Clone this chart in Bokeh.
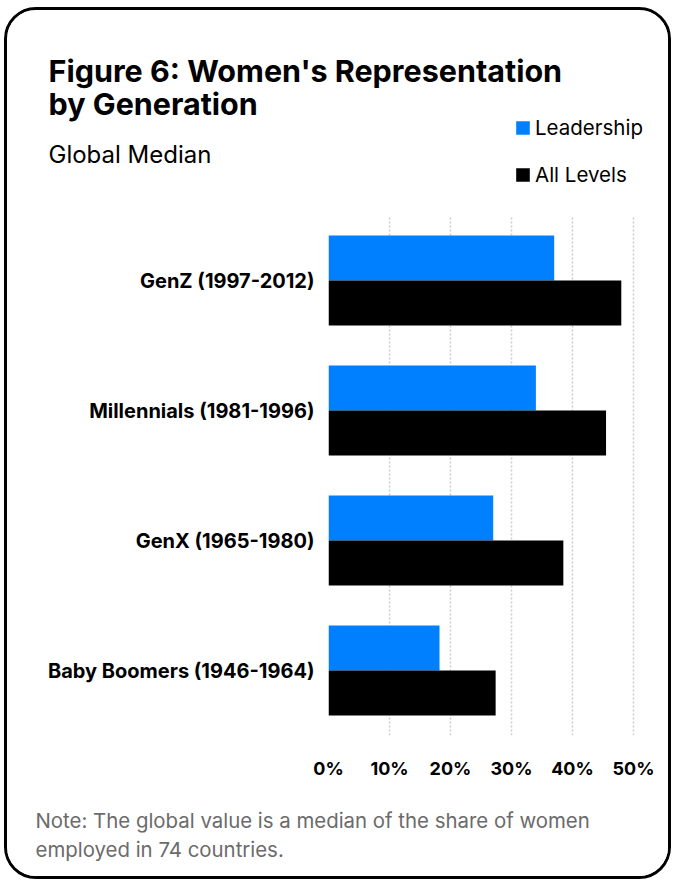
from bokeh.plotting import figure
from bokeh.layouts import column
from bokeh.models import (FactorRange, Range1d, Label, FixedTicker,
                          Legend, LegendItem, ColumnDataSource)
from bokeh.transform import dodge
from bokeh.embed import file_html
from bokeh.resources import INLINE

categories = ["GenZ (1997-2012)", "Millennials (1981-1996)", "GenX (1965-1980)",
              "Baby Boomers (1946-1964)"]
leadership = [37.0, 34.0, 27.0, 18.2]
all_levels = [48.0, 45.5, 38.5, 27.4]
series_names = ["Leadership", "All Levels"]
tick_values = [0, 10, 20, 30, 40, 50]
tick_labels = ["0%", "10%", "20%", "30%", "40%", "50%"]
colors = ["#0080ff", "#000000"]

FONT = "Inter"
W = 661
HH, HM, HF = 195, 590, 81


def blank(h):
    f = figure(width=W, height=h, output_backend="svg", toolbar_location=None,
               x_range=Range1d(0, W), y_range=Range1d(h, 0),
               x_axis_type=None, y_axis_type=None,
               min_border=0, min_border_left=0, min_border_right=0,
               min_border_top=0, min_border_bottom=0, frame_align=False)
    f.outline_line_color = None
    f.grid.grid_line_color = None
    f.border_fill_color = "white"
    f.background_fill_color = "white"
    return f


def lab(f, x, y, text, size, style="normal", color="black"):
    f.add_layout(Label(x=x, y=y, text=text, text_font=FONT, text_font_size=size,
                       text_font_style=style, text_color=color,
                       text_baseline="alphabetic", text_align="left"))


# ---------- header ----------
head = blank(HH)
lab(head, 41, 60, "Figure 6: Women's Representation", "30.5px", "bold")
lab(head, 41, 93, "by Generation", "30.5px", "bold")
lab(head, 41, 144, "Global Median", "24px")
# off-canvas stand-ins so that the legend can draw its swatches
d1 = head.hbar(y=[-1000], right=[1], height=1, fill_color=colors[0], line_color=None)
d2 = head.hbar(y=[-1000], right=[1], height=1, fill_color=colors[1], line_color=None)
legend = Legend(items=[LegendItem(label=series_names[0], renderers=[d1]),
                       LegendItem(label=series_names[1], renderers=[d2])],
                location=(507, 18), orientation="vertical",
                glyph_width=17, glyph_height=17, label_standoff=4,
                label_text_font=FONT, label_text_font_size="20.5px",
                label_text_color="black",
                label_height=17, spacing=22, padding=0, margin=0,
                border_line_color=None, background_fill_alpha=0)
head.add_layout(legend)

# ---------- main chart ----------
p = figure(width=W, height=HM, output_backend="svg", toolbar_location=None,
           y_range=FactorRange(*categories[::-1]), x_range=Range1d(0, 52.46),
           min_border_left=321, min_border_right=20, min_border_top=10,
           min_border_bottom=60, frame_align=False)
p.outline_line_color = None
p.border_fill_color = "white"

src = ColumnDataSource(dict(cat=categories, lead=leadership, all=all_levels))
p.hbar(y=dodge("cat", 0.173, range=p.y_range), left=0, right="lead", height=0.346,
       fill_color=colors[0], line_color=None, source=src)
p.hbar(y=dodge("cat", -0.173, range=p.y_range), left=0, right="all", height=0.346,
       fill_color=colors[1], line_color=None, source=src)

p.yaxis.axis_line_color = None
p.yaxis.major_tick_line_color = None
p.yaxis.minor_tick_line_color = None
p.yaxis.major_label_standoff = 8
p.yaxis.major_label_text_font = FONT
p.yaxis.major_label_text_font_style = "bold"
p.yaxis.major_label_text_font_size = "20px"
p.yaxis.major_label_text_color = "black"

p.xaxis.axis_line_color = None
p.xaxis.major_tick_line_color = None
p.xaxis.minor_tick_line_color = None
p.xaxis.ticker = FixedTicker(ticks=tick_values)
p.xaxis.major_label_overrides = {v: l for v, l in zip(tick_values, tick_labels)}
p.xaxis.major_label_standoff = 16
p.xaxis.major_label_text_font = FONT
p.xaxis.major_label_text_font_style = "bold"
p.xaxis.major_label_text_font_size = "18px"
p.xaxis.major_label_text_color = "black"

p.xgrid.grid_line_color = "#cccccc"
p.xgrid.grid_line_dash = "2 2"
p.xgrid.grid_line_width = 1.5
p.ygrid.grid_line_color = None

# ---------- footer ----------
foot = blank(HF)
lab(foot, 28, 25, "Note: The global value is a median of the share of women", "20.4px",
    color="#6b6b6b")
lab(foot, 28, 54, "employed in 74 countries.", "20.4px", color="#6b6b6b")

layout = column(head, p, foot, spacing=0,
                styles={"margin": "7px 0 0 4px", "border": "3px solid black",
                        "border-radius": "32px", "overflow": "hidden",
                        "background": "white"})

open("out.html", "w").write(file_html(layout, INLINE))
